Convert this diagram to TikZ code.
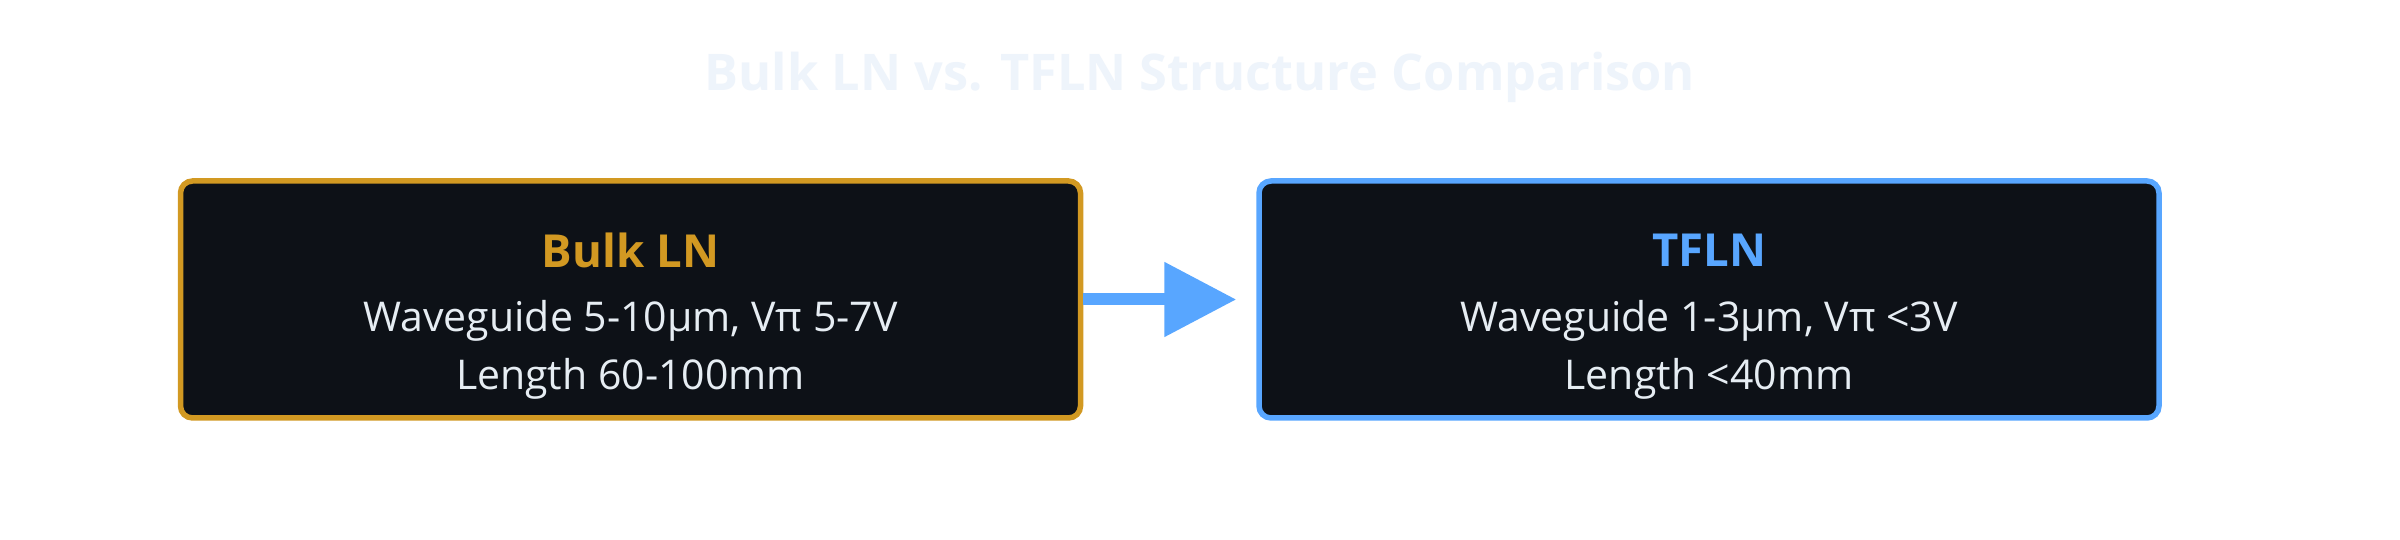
\documentclass[tikz,border=0pt]{standalone}
\usepackage{fontspec}
\setmainfont{Open Sans}
\usetikzlibrary{arrows.meta}
\definecolor{bg}{HTML}{FFFFFF}
\definecolor{boxfill}{HTML}{0D1117}
\definecolor{gold}{HTML}{D29922}
\definecolor{blueb}{HTML}{58A6FF}
\definecolor{txt}{HTML}{E6EDF3}
\definecolor{ttl}{HTML}{EEF4FB}
\tikzset{
  panel/.style={draw=#1, line width=5.5pt, fill=boxfill, rounded corners=12pt,
    minimum width=900pt, minimum height=237pt, inner sep=0pt},
  headtxt/.style={font=\fontsize{45.5}{52}\selectfont\bfseries, text=#1, inner sep=0pt},
  bodytxt/.style={font=\fontsize{41}{48}\selectfont, text=txt, inner sep=0pt},
}
\begin{document}
\begin{tikzpicture}[x=1pt,y=1pt]
\useasboundingbox[fill=bg] (0,0) rectangle (2400,540);
\node[font=\fontsize{50.5}{58}\selectfont\bfseries, text=ttl] (title) at (1200,463) {Bulk LN vs. TFLN Structure Comparison};
\node[panel=gold] (bulk) at (630.5,240.5) {};
\node[panel=blueb] (tfln) at (1709,240.5) {};
\node[headtxt=gold] (bulkh) at (630.5,290) {Bulk LN};
\node[bodytxt] (bulk1) at (630.5,219) {Waveguide 5-10μm, Vπ 5-7V};
\node[bodytxt] (bulk2) at (630.5,161) {Length 60-100mm};
\node[headtxt=blueb] (tflnh) at (1709,290) {TFLN};
\node[bodytxt] (tfln1) at (1709,219) {Waveguide 1-3μm, Vπ <3V};
\node[bodytxt] (tfln2) at (1709,161) {Length <40mm};
\draw[blueb, line width=12pt, -{Triangle[length=72pt,width=72pt]}, shorten >=20pt] (bulk.east) -- (tfln.west);
\end{tikzpicture}
\end{document}
